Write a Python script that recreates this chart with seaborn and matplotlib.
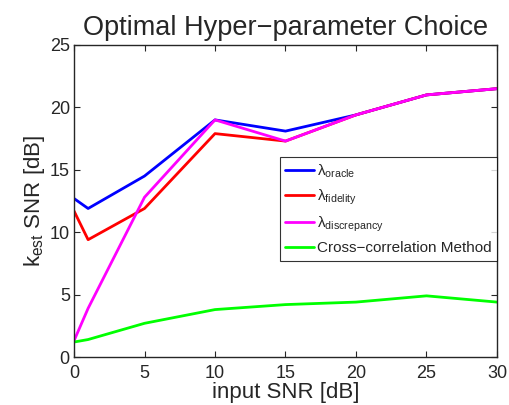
import numpy as np
import pandas as pd
import matplotlib
matplotlib.use("Agg")
import matplotlib.pyplot as plt
import seaborn as sns

snr = [0, 1, 5, 10, 15, 20, 25, 30]
oracle = [12.7, 11.9, 14.5, 19.0, 18.1, 19.4, 21.0, 21.5]
fidelity = [11.7, 9.4, 11.9, 17.9, 17.3, 19.4, 21.0, 21.5]
discrepancy = [1.3, 3.9, 12.8, 19.0, 17.3, 19.4, 21.0, 21.5]
xcorr = [1.2, 1.4, 2.7, 3.8, 4.2, 4.4, 4.9, 4.4]

labels = ['\u03bb$_{\\mathrm{oracle}}$', '\u03bb$_{\\mathrm{fidelity}}$',
          '\u03bb$_{\\mathrm{discrepancy}}$', 'Cross\u2212correlation Method']
colors = ['#0000ff', '#ff0000', '#ff00ff', '#00ff00']

df = pd.DataFrame({
    'snr': snr * 4,
    'val': oracle + fidelity + discrepancy + xcorr,
    'method': [l for l in labels for _ in snr],
})

sns.set_style("ticks")
plt.rcParams['font.family'] = ['Liberation Sans', 'DejaVu Sans']
plt.rcParams['mathtext.fontset'] = 'custom'
plt.rcParams['mathtext.rm'] = 'Liberation Sans'
plt.rcParams['mathtext.it'] = 'Liberation Sans:italic'

fig = plt.figure(figsize=(5.09, 4.05), dpi=100)
ax = fig.add_axes([0.1454, 0.1185, 0.831, 0.7704])
sns.lineplot(data=df, x='snr', y='val', hue='method', palette=colors,
             linewidth=2, ax=ax)

ax.set_xlim(0, 30)
ax.set_ylim(0, 25)
ax.set_xticks([0, 5, 10, 15, 20, 25, 30])
ax.set_yticks([0, 5, 10, 15, 20, 25])
ax.tick_params(direction='in', top=True, right=True, labelsize=13, length=4, width=0.8)
ax.tick_params(axis='x', pad=6)
ax.tick_params(axis='y', pad=3)
for s in ax.spines.values():
    s.set_linewidth(1.0)
ax.set_xlabel('input SNR [dB]', fontsize=16, labelpad=0)
ax.set_ylabel('k$_{\\mathrm{est}}$ SNR [dB]', fontsize=16, labelpad=2)
ax.set_title('Optimal Hyper\u2212parameter Choice', fontsize=19.5, pad=7)

leg = ax.legend(loc='center right', bbox_to_anchor=(1.0, 0.475), fontsize=11,
                frameon=True, fancybox=False, edgecolor='black',
                handlelength=1.9, handletextpad=0.2, borderpad=0.35,
                labelspacing=0.5, borderaxespad=0)
leg.get_frame().set_linewidth(0.8)

fig.savefig('out.png', dpi=100)
